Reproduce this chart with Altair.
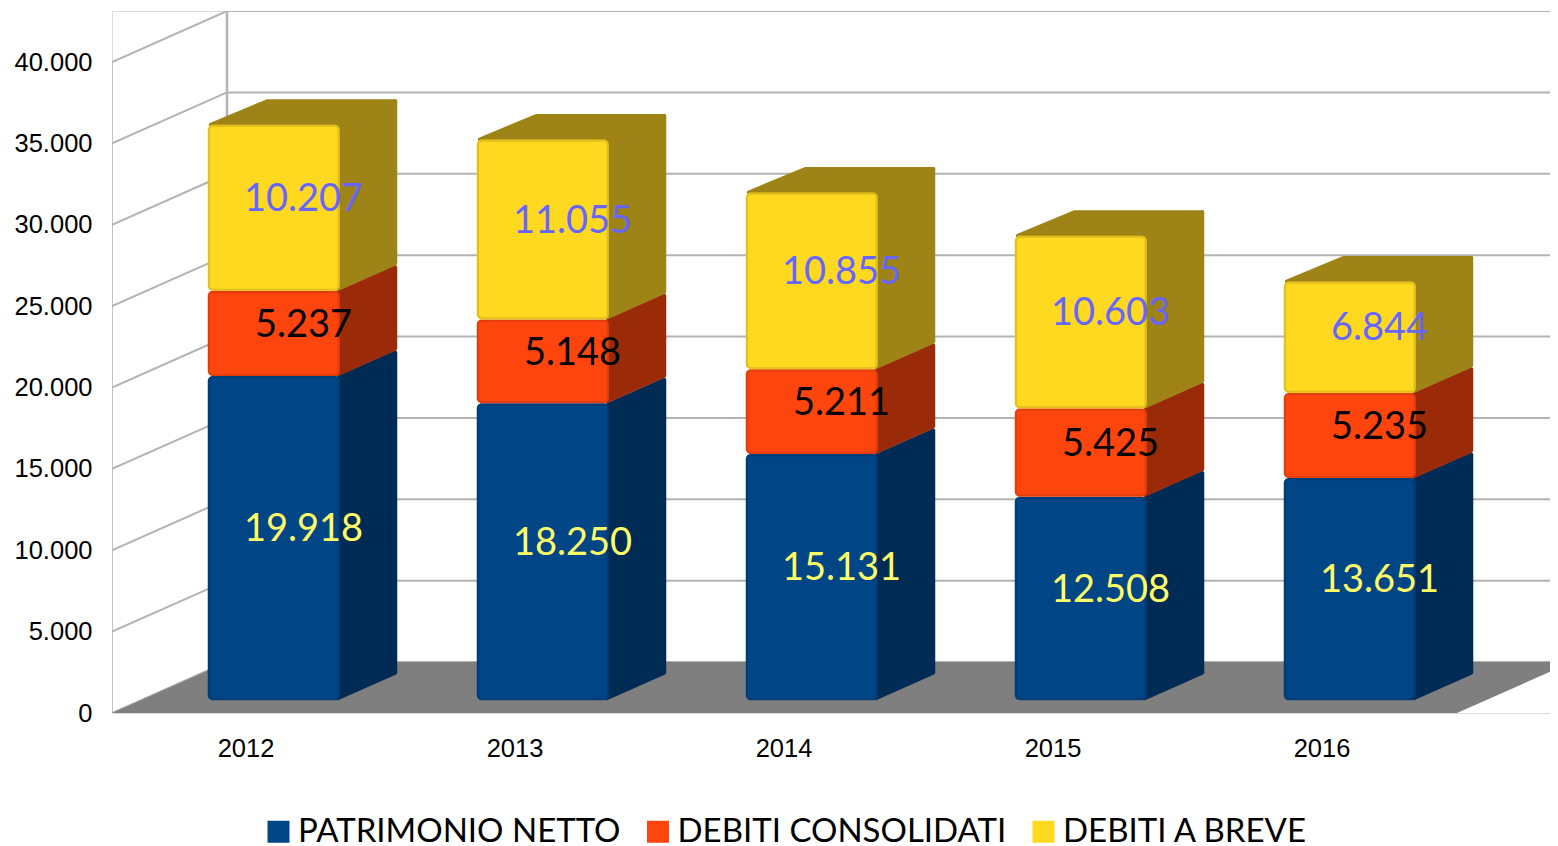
import altair as alt
import pandas as pd

YEARS = [2012, 2013, 2014, 2015, 2016]
SERIES = ["PATRIMONIO NETTO", "DEBITI CONSOLIDATI", "DEBITI A BREVE"]
PATRIMONIO = [19918, 18250, 15131, 12508, 13651]
CONSOLIDATI = [5237, 5148, 5211, 5425, 5235]
BREVE = [10207, 11055, 10855, 10603, 6844]
TICKS = [0, 5000, 10000, 15000, 20000, 25000, 30000, 35000, 40000]

FRONT = ["#004586", "#ff450e", "#ffd920"]
SIDE = ["#002b55", "#9b2b08", "#9e8316"]
EDGE = ["#00264d", "#8f2606", "#8a7210"]
TEXT = ["#ffff66", "#000000", "#6666ff"]

# plot geometry: plot area is 1438 x 702 px (the page caps the svg at 1542 px)
PW, PH = 1438, 702
SLOT_PX = 269.0
VAL_PX = 651.0 / 40000
XMAX = PW / SLOT_PX
YMAX = PH / VAL_PX
DX = 115 / SLOT_PX      # full-depth shift in x units
DY = 51 / VAL_PX        # full-depth shift in value units
BAR_W = 132 / SLOT_PX
NS = len(YEARS)
px_x = 1 / SLOT_PX
px_y = 1 / VAL_PX

# walls
rules = []
for t in TICKS:
    rules.append(dict(x=0, x2=DX, y=t, y2=t + DY, w=2))
    rules.append(dict(x=DX, x2=XMAX, y=t + DY, y2=t + DY, w=2))
rules.append(dict(x=0, x2=0, y=0, y2=40000, w=1.2))
rules.append(dict(x=DX, x2=DX, y=DY, y2=40000 + DY, w=2.5))
rules = pd.DataFrame(rules)

# floor
floor = pd.DataFrame([
    dict(x=0, y=0, y2=0),
    dict(x=DX, y=DY, y2=0),
    dict(x=NS, y=DY, y2=0),
    dict(x=NS + DX, y=DY, y2=DY),
])

faces, fronts, outlines, labels = [], [], [], []
ix, iy = 2 * px_x, 2 * px_y
for i in range(NS):
    left = i + 0.5 - BAR_W / 2 + 0.25 * DX - 1.5 * px_x
    right = left + BAR_W
    base = 0.25 * DY
    d_x, d_y = 0.5 * DX, 0.5 * DY
    bottom = 0
    for s, vals in enumerate([PATRIMONIO, CONSOLIDATI, BREVE]):
        v = vals[i]
        top = bottom + v
        b, t = bottom + base, top + base
        fid = f"s{i}-{s}"
        faces.append(dict(face=fid, x=right - ix, y=t - iy, y2=b + iy, fill=SIDE[s]))
        faces.append(dict(face=fid, x=right + d_x - ix, y=t + d_y - iy, y2=b + d_y + iy, fill=SIDE[s]))
        if s == 2:
            fid = f"t{i}"
            faces.append(dict(face=fid, x=left + 1.5 * ix, y=t, y2=t, fill=SIDE[s]))
            faces.append(dict(face=fid, x=left + d_x + ix, y=t + d_y - iy, y2=t, fill=SIDE[s]))
            faces.append(dict(face=fid, x=right, y=t + d_y - iy, y2=t, fill=SIDE[s]))
            faces.append(dict(face=fid, x=right + d_x - ix, y=t + d_y - iy, y2=t + d_y - iy, fill=SIDE[s]))
        fronts.append(dict(series=SERIES[s], x=left, x2=right, y=t, y2=b))
        outlines.append(dict(x=left + 1.2 * px_x, x2=right - 1.2 * px_x,
                             y=t - 1.2 * px_y, y2=b + 1.2 * px_y, edge=EDGE[s]))
        labels.append(dict(x=(left + right + d_x) / 2 + px_x, y=(b + t) / 2 + d_y / 2 - 5 * px_y,
                           label=f"{v:,}".replace(",", "."), tcol=TEXT[s]))
        bottom = top
faces = pd.DataFrame(faces)
fronts = pd.DataFrame(fronts)
outlines = pd.DataFrame(outlines)
labels = pd.DataFrame(labels)

xs = alt.Scale(domain=[0, XMAX], nice=False, zero=False)
ys = alt.Scale(domain=[0, YMAX], nice=False, zero=False)
year_expr = "[" + ",".join(f"'{y}'" for y in YEARS) + "][floor(datum.value)]"
X = alt.X("x:Q", scale=xs, title=None, axis=alt.Axis(
    values=[i + 0.5 for i in range(NS)], labelExpr=year_expr, domain=False, ticks=False,
    grid=False, labelFont="Liberation Sans", labelFontSize=25.5, labelColor="#000000",
    labelPadding=23, labelAngle=0, labelOffset=-1))
Y = alt.Y("y:Q", scale=ys, title=None, axis=alt.Axis(
    values=TICKS, labelExpr="replace(format(datum.value, ','), ',', '.')", domain=False,
    ticks=False, grid=False, labelFont="Liberation Sans", labelFontSize=25.5,
    labelColor="#000000", labelPadding=20))

wall = alt.Chart(rules).mark_rule(color="#b3b3b3", clip=True).encode(
    x=X, x2="x2:Q", y=Y, y2="y2:Q", strokeWidth=alt.StrokeWidth("w:Q", scale=None))
flo = alt.Chart(floor).mark_area(color="#7f7f7f", clip=True).encode(x=X, y=Y, y2="y2:Q")
side = alt.Chart(faces).mark_area(strokeWidth=4, strokeJoin="round", clip=True).encode(
    x=X, y=Y, y2="y2:Q", detail="face:N",
    fill=alt.Fill("fill:N", scale=None), stroke=alt.Stroke("fill:N", scale=None))
front = alt.Chart(fronts).mark_rect(cornerRadius=5).encode(
    x=X, x2="x2:Q", y=Y, y2="y2:Q",
    color=alt.Color("series:N", scale=alt.Scale(domain=SERIES, range=FRONT),
                    legend=alt.Legend(
                        orient="none", direction="horizontal", title=None,
                        legendX=150, legendY=804, symbolType="square", symbolSize=484,
                        symbolStrokeWidth=0, symbolOpacity=1,
                        labelFont="Lato", labelFontSize=33, labelColor="#000000",
                        labelLimit=500, columnPadding=20.5, labelOffset=3, padding=0)))
outl = alt.Chart(outlines).mark_rect(cornerRadius=4, fillOpacity=0, strokeWidth=2,
                                     strokeOpacity=0.25).encode(
    x=X, x2="x2:Q", y=Y, y2="y2:Q", stroke=alt.Stroke("edge:N", scale=None))
text = alt.Chart(labels).mark_text(font="Lato", fontSize=38, align="center",
                                   baseline="middle").encode(
    x=X, y=Y, text="label:N", fill=alt.Fill("tcol:N", scale=None))

chart = alt.layer(wall, flo, side, front, outl, text).properties(
    width=PW, height=PH,
    autosize=alt.AutoSizeParams(type="none"),
    padding={"left": 104, "top": 3, "right": 0, "bottom": 133},
).configure_view(stroke=None).configure(background="#ffffff")

chart.save("out.html", embed_options={"renderer": "svg", "actions": False})
